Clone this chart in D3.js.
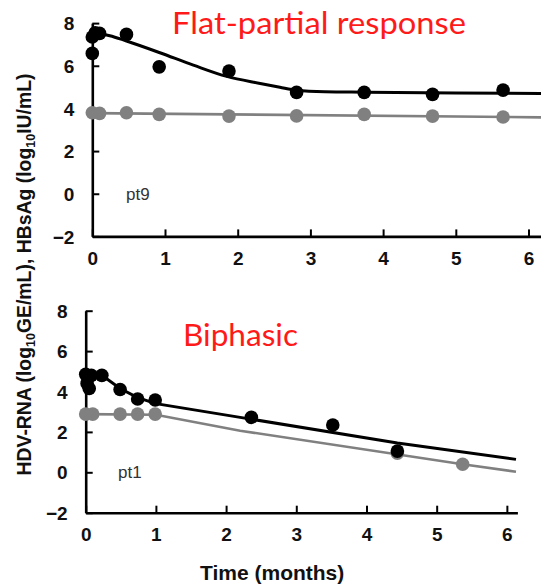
<!DOCTYPE html>
<html>
<head>
<meta charset="utf-8">
<script src="https://cdn.jsdelivr.net/npm/d3@7"></script>
<style>
  html, body { margin: 0; padding: 0; background: #fff; }
  svg { display: block; }
</style>
</head>
<body>
<svg id="chart" width="541" height="587"></svg>
<script>
// ---------- data ----------
const xTicks = [0, 1, 2, 3, 4, 5, 6];
const yTicks = [-2, 0, 2, 4, 6, 8];

// Panel 1: pt9, flat-partial response
const p1Title = "Flat-partial response";
const p1Label = "pt9";
const p1HdvTime  = [0, 0, 0.04, 0.1, 0.47, 0.92, 1.88, 2.81, 3.74, 4.68, 5.65];
const p1HdvValue = [6.58, 7.35, 7.55, 7.52, 7.47, 5.95, 5.75, 4.75, 4.75, 4.66, 4.86];
const p1HbsTime  = [0, 0.1, 0.47, 0.92, 1.88, 2.81, 3.74, 4.68, 5.65];
const p1HbsValue = [3.8, 3.77, 3.8, 3.72, 3.64, 3.65, 3.72, 3.64, 3.6];
const p1HdvFitTime  = [0, 0.24, 0.47, 0.93, 1.39, 1.85, 2.31, 2.58, 2.81, 3.2, 3.74, 5, 6.2];
const p1HdvFitValue = [7.55, 7.41, 7.16, 6.61, 6.03, 5.5, 5.17, 4.99, 4.85, 4.78, 4.76, 4.72, 4.7];
const p1HbsFitTime  = [0, 6.2];
const p1HbsFitValue = [3.78, 3.58];

// Panel 2: pt1, biphasic
const p2Title = "Biphasic";
const p2Label = "pt1";
const p2HdvTime  = [0, 0.02, 0.05, 0.08, 0.23, 0.49, 0.74, 0.99, 2.36, 3.52, 4.44];
const p2HdvValue = [4.85, 4.4, 4.15, 4.8, 4.8, 4.1, 3.63, 3.58, 2.72, 2.34, 1.05];
const p2HbsTime  = [0, 0.1, 0.49, 0.74, 0.99, 4.44, 5.37];
const p2HbsValue = [2.88, 2.88, 2.88, 2.88, 2.88, 0.95, 0.4];
const p2HdvFitTime  = [0, 0.23, 0.49, 0.74, 1.0, 2.2, 4.44, 6.13];
const p2HdvFitValue = [4.85, 4.8, 4.15, 3.7, 3.4, 2.72, 1.45, 0.64];
const p2HbsFitTime  = [0, 1.0, 2.2, 5.37, 6.13];
const p2HbsFitValue = [2.88, 2.85, 2.06, 0.4, 0.03];

const yLabelParts = ["HDV-RNA (log", "10", "GE/mL), HBsAg (log", "10", "IU/mL)"];
const xLabel = "Time (months)";

// ---------- drawing ----------
const svg = d3.select("#chart");
const BLACK = "#000";
const GRAY = "#808080";
const RED = "#ff1a1a";
const tickFont = "'Liberation Sans', Arial, sans-serif";

function zip(a, b) { return a.map((v, i) => [v, b[i]]); }

function panel(cfg) {
  const x = d3.scaleLinear().domain([0, cfg.xMax]).range([cfg.left, cfg.right]);
  const y = d3.scaleLinear().domain([-2, 8]).range([cfg.bottom, cfg.top]);
  const g = svg.append("g");

  // axes
  const xa = g.append("g").attr("transform", `translate(0,${cfg.bottom})`)
    .call(d3.axisBottom(x).tickValues(xTicks).tickFormat(d3.format("d"))
      .tickSizeInner(-7).tickSizeOuter(0).tickPadding(15));
  const ya = g.append("g").attr("transform", `translate(${cfg.left},0)`)
    .call(d3.axisLeft(y).tickValues(yTicks).tickFormat(d3.format("d"))
      .tickSizeInner(-7).tickSizeOuter(0).tickPadding(18));
  [xa, ya].forEach(a => {
    a.select(".domain").attr("stroke", BLACK).attr("stroke-width", 2.6);
    a.selectAll(".tick line").attr("stroke", BLACK).attr("stroke-width", 2);
    a.selectAll(".tick text").attr("fill", "#111").attr("font-family", tickFont)
      .attr("font-weight", "bold").attr("font-size", 19);
  });
  xa.selectAll(".tick text").attr("dy", "0.71em");
  ya.selectAll(".tick text").attr("dy", "0.35em");

  const line = d3.line().x(d => x(d[0])).y(d => y(d[1]));

  // fitted curves
  g.append("path").datum(zip(cfg.hbsFitT, cfg.hbsFitV))
    .attr("d", line.curve(d3.curveLinear)).attr("fill", "none")
    .attr("stroke", GRAY).attr("stroke-width", 2.6);
  g.append("path").datum(zip(cfg.hdvFitT, cfg.hdvFitV))
    .attr("d", line.curve(cfg.smooth ? d3.curveMonotoneX : d3.curveLinear)).attr("fill", "none")
    .attr("stroke", BLACK).attr("stroke-width", 3);

  // points
  g.append("g").selectAll("circle").data(zip(cfg.hbsT, cfg.hbsV)).join("circle")
    .attr("cx", d => x(d[0])).attr("cy", d => y(d[1])).attr("r", 6.8).attr("fill", GRAY);
  g.append("g").selectAll("circle").data(zip(cfg.hdvT, cfg.hdvV)).join("circle")
    .attr("cx", d => x(d[0])).attr("cy", d => y(d[1])).attr("r", 6.8).attr("fill", BLACK);

  // labels
  g.append("text").attr("x", cfg.ptX).attr("y", y(0) + 6)
    .attr("font-family", tickFont).attr("font-size", 17).attr("fill", "#333")
    .text(cfg.ptLabel);
  g.append("text").attr("x", cfg.titleX).attr("y", cfg.titleY)
    .attr("font-family", "Lato, 'Open Sans', sans-serif").attr("font-size", 30)
    .attr("textLength", cfg.titleW).attr("lengthAdjust", "spacingAndGlyphs")
    .attr("fill", RED).text(cfg.title);
}

panel({
  xMax: 6.18, left: 92.3, right: 541.6, top: 23.1, bottom: 236.4,
  hdvT: p1HdvTime, hdvV: p1HdvValue, hbsT: p1HbsTime, hbsV: p1HbsValue,
  hdvFitT: p1HdvFitTime, hdvFitV: p1HdvFitValue, hbsFitT: p1HbsFitTime, hbsFitV: p1HbsFitValue,
  smooth: true, ptLabel: p1Label, ptX: 126, title: p1Title, titleX: 172, titleY: 34, titleW: 294
});
panel({
  xMax: 6.15, left: 85.7, right: 517.4, top: 310.7, bottom: 512.7,
  hdvT: p2HdvTime, hdvV: p2HdvValue, hbsT: p2HbsTime, hbsV: p2HbsValue,
  hdvFitT: p2HdvFitTime, hdvFitV: p2HdvFitValue, hbsFitT: p2HbsFitTime, hbsFitV: p2HbsFitValue,
  smooth: false, ptLabel: p2Label, ptX: 118, title: p2Title, titleX: 183, titleY: 346, titleW: 115
});

// y-axis title (shared)
const yFont = 19.4;
const yl = svg.append("text")
  .attr("transform", "translate(31,274.5) rotate(-90)")
  .attr("text-anchor", "middle")
  .attr("font-family", tickFont).attr("font-weight", "bold").attr("font-size", yFont)
  .attr("fill", "#111");
yLabelParts.forEach((t, i) => {
  const sub = (i % 2 === 1);
  yl.append("tspan").attr("font-size", sub ? 12.5 : yFont)
    .attr("dy", sub ? 4 : (i > 0 ? -4 : 0)).text(t);
});

// x-axis title
svg.append("text").attr("x", 200).attr("y", 580)
  .attr("font-family", tickFont).attr("font-weight", "bold").attr("font-size", 21)
  .attr("fill", "#111").text(xLabel);
</script>
</body>
</html>
